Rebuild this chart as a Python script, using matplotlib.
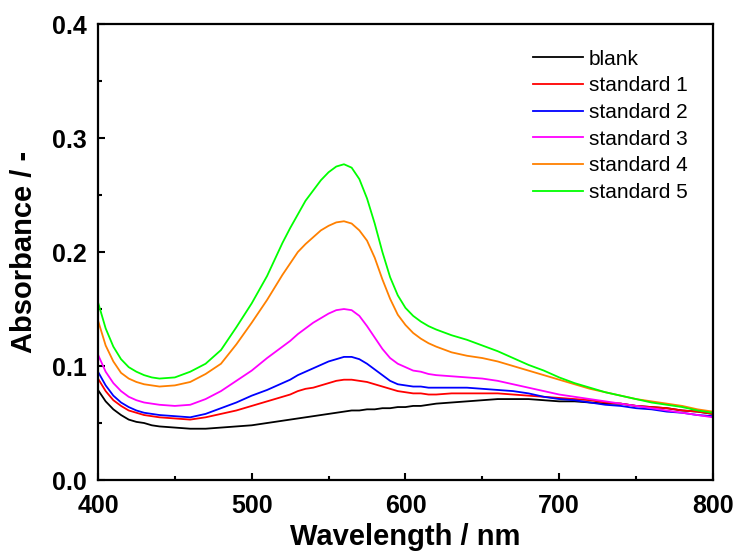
import numpy as np
import matplotlib
matplotlib.use("Agg")
import matplotlib.pyplot as plt
from matplotlib.ticker import MultipleLocator

plt.rcParams['font.family'] = ['Liberation Sans', 'DejaVu Sans']

# Wavelength grid (nm): finer steps where the curves bend
wavelength = (list(range(400, 441, 5)) + list(range(450, 511, 10))
              + list(range(520, 621, 5)) + list(range(630, 801, 10)))

blank = [0.079, 0.069, 0.062, 0.057, 0.053, 0.051, 0.050, 0.048, 0.047,
         0.046, 0.045, 0.045, 0.046, 0.047, 0.048, 0.050,
         0.052, 0.053, 0.054, 0.055, 0.056, 0.057, 0.058, 0.059, 0.060, 0.061, 0.061,
         0.062, 0.062, 0.063, 0.063, 0.064, 0.064, 0.065, 0.065, 0.066, 0.067,
         0.068, 0.069, 0.070, 0.071, 0.071, 0.071, 0.070, 0.069, 0.069, 0.068, 0.067,
         0.067, 0.065, 0.064, 0.063, 0.061, 0.060, 0.058]
standard_1 = [0.089, 0.078, 0.070, 0.065, 0.061, 0.059, 0.057, 0.056, 0.055,
              0.054, 0.053, 0.055, 0.058, 0.061, 0.065, 0.069,
              0.073, 0.075, 0.078, 0.080, 0.081, 0.083, 0.085, 0.087, 0.088, 0.088, 0.087,
              0.086, 0.084, 0.082, 0.080, 0.078, 0.077, 0.076, 0.076, 0.075, 0.075,
              0.076, 0.076, 0.076, 0.076, 0.075, 0.074, 0.073, 0.072, 0.071, 0.070, 0.068,
              0.067, 0.065, 0.064, 0.063, 0.061, 0.060, 0.058]
standard_2 = [0.095, 0.083, 0.074, 0.068, 0.064, 0.061, 0.059, 0.058, 0.057,
              0.056, 0.055, 0.058, 0.063, 0.068, 0.074, 0.079,
              0.085, 0.088, 0.092, 0.095, 0.098, 0.101, 0.104, 0.106, 0.108, 0.108, 0.106,
              0.102, 0.097, 0.092, 0.087, 0.084, 0.083, 0.082, 0.082, 0.081, 0.081,
              0.081, 0.081, 0.080, 0.079, 0.078, 0.076, 0.073, 0.071, 0.070, 0.068, 0.066,
              0.065, 0.063, 0.062, 0.060, 0.059, 0.057, 0.056]
standard_3 = [0.110, 0.095, 0.085, 0.078, 0.073, 0.070, 0.068, 0.067, 0.066,
              0.065, 0.066, 0.071, 0.078, 0.087, 0.096, 0.107,
              0.117, 0.122, 0.128, 0.133, 0.138, 0.142, 0.146, 0.149, 0.150, 0.149, 0.144,
              0.135, 0.125, 0.115, 0.107, 0.102, 0.099, 0.096, 0.095, 0.093, 0.092,
              0.091, 0.090, 0.089, 0.087, 0.084, 0.081, 0.078, 0.075, 0.073, 0.071, 0.069,
              0.067, 0.065, 0.063, 0.061, 0.059, 0.057, 0.055]
standard_4 = [0.140, 0.118, 0.104, 0.094, 0.089, 0.086, 0.084, 0.083, 0.082,
              0.083, 0.086, 0.093, 0.102, 0.119, 0.138, 0.158,
              0.180, 0.190, 0.200, 0.207, 0.213, 0.219, 0.223, 0.226, 0.227, 0.225, 0.219,
              0.210, 0.195, 0.176, 0.159, 0.145, 0.136, 0.129, 0.124, 0.120, 0.117,
              0.112, 0.109, 0.107, 0.104, 0.100, 0.096, 0.092, 0.088, 0.084, 0.080, 0.077,
              0.074, 0.071, 0.069, 0.067, 0.065, 0.062, 0.060]
standard_5 = [0.156, 0.133, 0.117, 0.106, 0.099, 0.095, 0.092, 0.090, 0.089,
              0.090, 0.095, 0.102, 0.114, 0.134, 0.155, 0.179,
              0.208, 0.221, 0.233, 0.245, 0.254, 0.263, 0.270, 0.275, 0.277, 0.274, 0.264,
              0.247, 0.225, 0.200, 0.178, 0.162, 0.151, 0.144, 0.139, 0.135, 0.132,
              0.127, 0.123, 0.118, 0.113, 0.107, 0.101, 0.096, 0.090, 0.085, 0.081, 0.077,
              0.074, 0.071, 0.068, 0.066, 0.064, 0.061, 0.059]

labels = ["blank", "standard 1", "standard 2", "standard 3", "standard 4", "standard 5"]
colors = ["black", "#FF0000", "#0000FF", "#FF00FF", "#FF8000", "#00FF00"]
series = [blank, standard_1, standard_2, standard_3, standard_4, standard_5]

fig = plt.figure(figsize=(7.35, 5.59), dpi=100)
ax = fig.add_axes([0.1333, 0.1413, 0.8367, 0.8157])

for s, c, lab in zip(series, colors, labels):
    ax.plot(wavelength, s, color=c, lw=1.3, label=lab)

ax.set_xlim(400, 800)
ax.set_ylim(0, 0.4)
ax.xaxis.set_major_locator(MultipleLocator(100))
ax.xaxis.set_minor_locator(MultipleLocator(50))
ax.yaxis.set_major_locator(MultipleLocator(0.1))
ax.yaxis.set_minor_locator(MultipleLocator(0.05))
ax.tick_params(which='both', direction='in', width=1.5, top=False, right=False)
ax.tick_params(which='major', length=5, labelsize=18)
ax.tick_params(axis='x', which='major', pad=10)
ax.tick_params(axis='y', which='major', pad=8)
ax.tick_params(which='minor', length=3)
for lbl in ax.get_xticklabels() + ax.get_yticklabels():
    lbl.set_fontweight('bold')
for sp in ax.spines.values():
    sp.set_linewidth(1.6)

ax.set_xlabel("Wavelength / nm", fontsize=21, fontweight='bold', labelpad=4)
ax.set_ylabel("Absorbance / -", fontsize=21, fontweight='bold', labelpad=10)

ax.legend(loc='upper left', bbox_to_anchor=(0.707, 0.944), frameon=False,
          fontsize=15, handlelength=2.4, handletextpad=0.3, labelspacing=0.37,
          borderpad=0, borderaxespad=0)

fig.savefig("out.png", dpi=100)
